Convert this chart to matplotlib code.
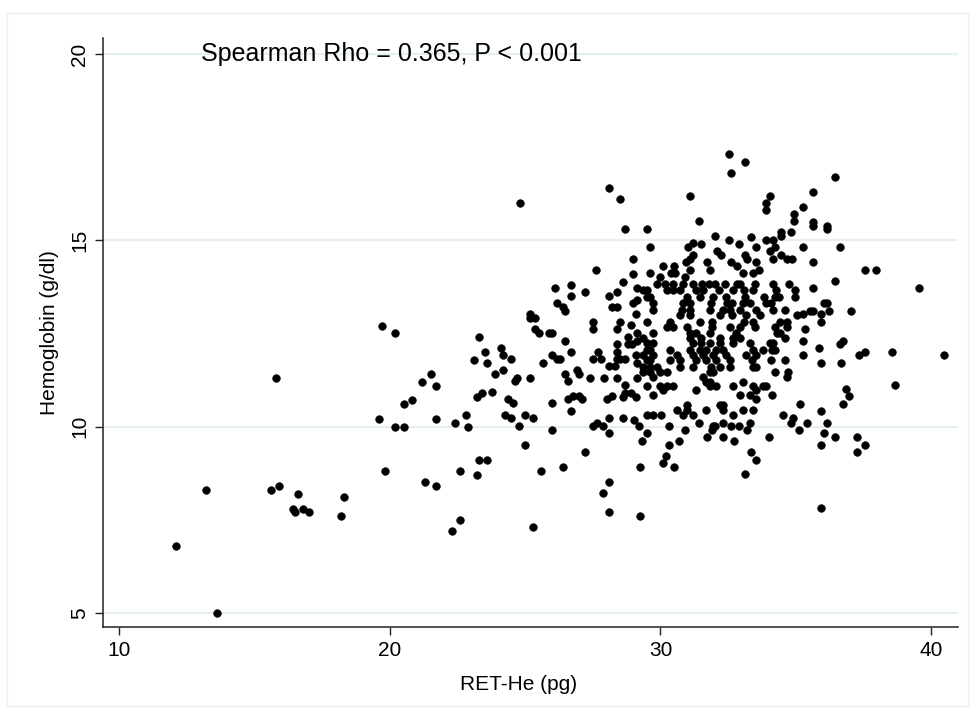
import matplotlib
matplotlib.use("Agg")
import matplotlib.pyplot as plt
from matplotlib.patches import Rectangle

plt.rcParams['font.family'] = ['Liberation Sans', 'DejaVu Sans']

x_label = "RET-He (pg)"
y_label = "Hemoglobin (g/dl)"
annotation = "Spearman Rho = 0.365, P < 0.001"
x_ticks = [10, 20, 30, 40]
y_ticks = [5, 10, 15, 20]

# (RET-He, Hemoglobin) pairs, grouped by region
left_points = [
    (12.1, 6.8), (13.6, 5.0), (13.2, 8.3), (15.8, 11.3), (15.6, 8.3), (15.9, 8.4),
    (16.6, 8.2), (16.4, 7.8), (16.5, 7.7), (16.8, 7.8), (17.0, 7.7), (18.3, 8.1),
    (18.2, 7.6), (19.7, 12.7), (20.2, 12.5), (19.6, 10.2), (20.2, 10.0), (20.5, 10.0),
    (20.5, 10.6), (20.8, 10.7), (21.2, 11.2), (21.5, 11.4), (21.7, 11.1), (21.7, 10.2),
    (19.8, 8.8), (21.3, 8.5), (21.7, 8.4), (22.4, 10.1), (22.8, 10.3), (22.9, 10.0),
    (22.6, 8.8), (23.2, 8.7), (23.3, 9.1), (23.6, 9.1), (22.6, 7.5), (22.3, 7.2),
    (23.3, 12.4), (23.5, 12.0), (23.1, 11.8), (23.6, 11.7), (23.2, 10.8), (23.4, 10.9),
]

upper_points = [
    (24.8, 16.0), (28.1, 16.4), (28.5, 16.1), (28.7, 15.3), (29.0, 14.5), (27.6, 14.2),
    (29.0, 14.1),
    (32.52, 17.31), (33.12, 17.10), (32.62, 16.80), (31.11, 16.20), (34.04, 16.20),
    (33.92, 16.01), (33.92, 15.80), (34.94, 15.71), (34.94, 15.51), (31.41, 15.52),
    (29.51, 15.31), (29.61, 14.81), (32.03, 15.11), (32.52, 15.02), (33.33, 15.10),
    (33.92, 15.02), (34.15, 15.02), (34.44, 15.21), (34.44, 15.11), (34.84, 15.21),
    (31.21, 14.92), (31.51, 14.91), (31.03, 14.81), (32.91, 14.91), (33.53, 14.81),
    (34.23, 14.81), (32.10, 14.71), (32.22, 14.60), (31.21, 14.61), (31.09, 14.51),
    (30.94, 14.42), (33.14, 14.60), (33.21, 14.51), (34.05, 14.71), (34.15, 14.51),
    (34.44, 14.61), (34.66, 14.51), (34.86, 14.51), (31.71, 14.42), (31.83, 14.21),
    (31.11, 14.21), (30.10, 14.31), (30.50, 14.31), (29.61, 14.11), (29.98, 14.01),
    (30.40, 14.11), (30.52, 14.11), (30.92, 14.01), (32.62, 14.42), (32.82, 14.31),
    (33.53, 14.42), (33.63, 14.21), (33.06, 14.11), (33.43, 14.11),
    (36.44, 16.71), (35.65, 16.30), (35.26, 15.90), (35.65, 15.50), (35.65, 15.39),
    (36.14, 15.38), (36.14, 15.29), (35.26, 14.81), (36.65, 14.81), (35.65, 14.41),
    (37.56, 14.21), (37.97, 14.21),
]

mid_left_points = [
    (26.09, 13.72), (26.69, 13.81), (26.69, 13.51), (27.20, 13.61), (28.60, 13.89),
    (28.11, 13.51), (28.39, 13.61), (29.14, 13.72), (26.19, 13.32), (26.38, 13.22),
    (26.48, 13.11), (28.21, 13.22), (28.39, 13.22), (29.00, 13.32), (29.12, 13.40),
    (25.18, 13.01), (25.18, 12.91), (25.37, 12.91), (29.09, 13.01), (27.50, 12.81),
    (27.50, 12.61), (28.50, 12.81), (28.90, 12.72), (28.38, 12.61), (25.37, 12.61),
    (25.50, 12.50), (25.89, 12.50), (25.99, 12.50), (26.48, 12.31), (28.80, 12.41),
    (29.14, 12.52), (28.38, 12.21), (28.80, 12.21), (28.95, 12.21), (29.14, 12.31),
    (24.09, 12.12), (24.19, 11.91), (24.49, 11.81), (24.16, 11.52), (23.87, 11.41),
    (24.68, 11.31), (24.61, 11.21), (25.18, 11.31), (25.67, 11.71), (25.99, 11.91),
    (26.19, 11.81), (26.28, 11.81), (26.68, 12.01), (26.48, 11.41), (26.58, 11.21),
    (26.90, 11.52), (27.00, 11.41), (27.39, 11.31), (27.69, 12.01), (27.52, 11.81),
    (27.79, 11.81), (27.91, 11.31), (28.11, 11.62), (28.31, 11.62), (28.38, 12.01),
    (28.38, 11.81), (28.50, 11.81), (28.70, 11.81), (29.09, 11.91), (29.14, 11.71),
    (28.40, 11.31), (29.14, 11.31), (28.70, 11.12), (28.70, 10.91), (28.60, 10.80),
    (28.90, 10.91), (29.09, 10.80), (23.77, 10.93), (24.36, 10.73), (24.56, 10.62),
    (24.26, 10.32), (24.46, 10.23), (24.98, 10.32), (25.27, 10.23), (25.99, 10.62),
    (26.58, 10.73), (26.78, 10.82), (26.97, 10.82), (27.10, 10.73), (26.68, 10.43),
    (28.01, 10.73), (28.21, 10.82), (28.11, 10.23), (28.63, 10.23),
]

core_points = [
    (29.86, 13.84), (30.18, 13.84), (30.45, 13.84), (30.84, 13.84), (31.19, 13.84),
    (31.53, 13.84), (31.78, 13.84), (32.00, 13.84), (32.39, 13.84), (32.84, 13.84),
    (32.94, 13.84), (33.50, 13.84), (34.17, 13.84), (34.74, 13.84),
    (29.36, 13.66), (29.49, 13.66), (30.23, 13.66), (30.47, 13.66), (30.72, 13.66),
    (31.33, 13.66), (31.58, 13.66), (32.15, 13.66), (32.69, 13.66), (33.08, 13.66),
    (33.43, 13.66), (34.27, 13.66), (34.98, 13.66),
    (29.49, 13.49), (29.61, 13.49), (30.97, 13.49), (31.46, 13.49), (31.95, 13.49),
    (32.44, 13.49), (33.13, 13.49), (33.82, 13.49), (34.22, 13.49), (34.39, 13.49),
    (34.98, 13.49),
    (29.73, 13.31), (30.84, 13.31), (31.09, 13.31), (31.88, 13.31), (32.47, 13.31),
    (32.64, 13.31), (33.06, 13.31), (33.31, 13.31), (33.92, 13.31), (34.07, 13.31),
    (29.73, 13.13), (30.79, 13.13), (31.09, 13.13), (31.83, 13.13), (32.32, 13.13),
    (32.57, 13.13), (32.94, 13.13), (33.55, 13.13), (34.17, 13.13), (34.61, 13.13),
    (30.72, 12.99), (31.11, 12.99), (32.20, 12.99), (32.64, 12.99), (33.16, 12.99),
    (33.68, 12.99), (35.03, 12.99),
    (29.49, 12.81), (30.35, 12.81), (31.46, 12.81), (31.90, 12.81), (33.08, 12.81),
    (33.43, 12.81), (34.42, 12.81), (34.66, 12.81),
    (30.23, 12.68), (30.47, 12.68), (30.97, 12.68), (31.90, 12.68), (32.57, 12.68),
    (32.94, 12.68), (33.50, 12.68), (34.22, 12.68), (34.66, 12.68),
    (29.73, 12.50), (31.09, 12.50), (31.33, 12.50), (31.83, 12.50), (32.81, 12.50),
    (34.29, 12.50), (34.42, 12.50),
    (29.36, 12.37), (31.09, 12.37), (31.51, 12.37), (32.20, 12.37), (32.69, 12.37),
    (32.94, 12.37), (34.61, 12.37),
    (29.49, 12.23), (29.73, 12.23), (31.21, 12.23), (31.51, 12.23), (31.83, 12.23),
    (32.20, 12.23), (32.69, 12.23), (33.31, 12.23), (34.05, 12.23), (34.17, 12.23),
    (29.49, 12.05), (29.61, 12.05), (30.35, 12.05), (31.09, 12.05), (31.46, 12.05),
    (31.70, 12.05), (32.07, 12.05), (32.32, 12.05), (33.43, 12.05), (33.80, 12.05),
    (34.12, 12.05), (34.24, 12.05),
    (29.36, 11.92), (29.73, 11.92), (30.60, 11.92), (31.21, 11.92), (31.58, 11.92),
    (31.95, 11.92), (32.44, 11.92), (33.18, 11.92), (33.55, 11.92),
    (29.49, 11.79), (29.61, 11.79), (30.35, 11.79), (30.72, 11.79), (31.33, 11.79),
    (31.70, 11.79), (32.07, 11.79), (32.57, 11.79), (33.38, 11.79), (34.07, 11.79),
    (34.61, 11.79),
    (29.36, 11.61), (29.61, 11.61), (29.86, 11.61), (30.72, 11.61), (31.21, 11.61),
    (31.85, 11.61), (32.20, 11.61), (32.57, 11.61), (33.43, 11.61), (33.55, 11.61),
    (29.36, 11.47), (29.61, 11.47), (29.98, 11.47), (30.23, 11.47), (31.83, 11.47),
    (31.95, 11.47), (34.22, 11.47), (34.71, 11.47),
    (29.73, 11.34), (31.58, 11.34), (34.66, 11.34),
    (31.70, 11.20), (31.83, 11.20), (33.06, 11.20),
    (29.49, 11.09), (29.98, 11.09), (30.23, 11.09), (30.47, 11.09), (31.83, 11.09),
    (32.07, 11.09), (32.69, 11.09), (33.43, 11.09), (33.80, 11.09), (33.92, 11.09),
    (30.10, 10.98), (31.33, 10.98), (33.55, 10.98),
    (29.73, 10.85), (32.94, 10.85), (33.31, 10.85), (34.12, 10.85),
    (33.55, 10.73),
    (30.97, 10.58), (32.20, 10.58), (32.32, 10.58),
    (30.60, 10.44), (30.97, 10.44), (31.70, 10.44), (32.32, 10.44), (33.06, 10.44),
    (33.43, 10.44),
    (29.49, 10.31), (29.73, 10.31), (30.03, 10.31), (30.84, 10.31), (31.19, 10.31),
    (32.69, 10.31), (34.54, 10.31),
    (34.91, 10.22),
]

right_points = [
    (36.44, 13.91), (35.65, 13.72), (39.57, 13.72), (36.04, 13.32), (36.17, 13.32),
    (35.53, 13.11), (35.65, 13.11), (35.26, 13.01), (35.95, 13.01), (36.24, 13.11),
    (37.04, 13.11), (35.95, 12.81), (35.34, 12.61), (35.26, 12.31), (36.73, 12.31),
    (36.64, 12.21), (35.85, 12.11), (35.26, 11.91), (35.95, 11.71), (36.66, 11.71),
    (37.35, 11.91), (37.55, 12.01), (38.56, 12.01), (40.48, 11.91), (38.66, 11.11),
    (36.86, 11.02), (36.96, 10.81), (36.73, 10.60), (35.16, 10.60), (35.95, 10.42),
]

lower_points = [
    (29.02, 10.17), (24.78, 10.01), (25.99, 9.91), (27.49, 10.01), (27.64, 10.10),
    (27.89, 10.01), (28.11, 9.82), (29.20, 10.01), (24.98, 9.51), (27.20, 9.31),
    (25.57, 8.81), (26.38, 8.91), (28.11, 8.51), (27.89, 8.21), (28.11, 7.71),
    (25.27, 7.31),
    (29.49, 9.82), (29.32, 9.62), (30.30, 10.01), (30.92, 9.91), (31.41, 10.10),
    (31.93, 10.01), (32.03, 10.01), (31.90, 9.91), (32.32, 10.10), (32.62, 10.01),
    (32.91, 10.01), (33.21, 9.91), (33.31, 10.10), (34.84, 10.10), (35.13, 9.91),
    (31.71, 9.71), (32.32, 9.71), (32.72, 9.62), (34.02, 9.71), (30.70, 9.62),
    (30.30, 9.51), (30.20, 9.22), (30.10, 9.01), (30.50, 8.91), (29.24, 8.91),
    (33.33, 9.31), (33.53, 9.11), (33.14, 8.72), (29.24, 7.61),
    (35.43, 10.10), (36.14, 10.10), (36.04, 9.82), (36.44, 9.71), (35.95, 9.51),
    (37.25, 9.71), (37.55, 9.51), (37.25, 9.31), (35.95, 7.81),
]

all_points = left_points + upper_points + mid_left_points + core_points + right_points + lower_points
ret_he = [p[0] for p in all_points]
hemoglobin = [p[1] for p in all_points]

fig = plt.figure(figsize=(9.75, 7.17), dpi=100)
fig.patch.set_facecolor('white')
# faint outer graph-region border
fig.add_artist(Rectangle((7 / 975, 1 - 706 / 717), 961 / 975, 693 / 717,
                         transform=fig.transFigure, fill=False,
                         edgecolor='#eeeeee', linewidth=1.0))

ax = fig.add_axes([103 / 975, 1 - 627 / 717, 855 / 975, 589 / 717])
ax.set_facecolor('white')
ax.set_xlim(9.39, 41.0)
ax.set_ylim(4.62, 20.43)

for yv in y_ticks:
    ax.axhline(yv, color='#e6eff2', linewidth=1.6, zorder=0)

ax.scatter(ret_he, hemoglobin, s=32, color='black', edgecolors='black',
           linewidths=0.3, zorder=3)

for side in ['top', 'right']:
    ax.spines[side].set_visible(False)
for side in ['left', 'bottom']:
    ax.spines[side].set_color('#222222')
    ax.spines[side].set_linewidth(1.1)

ax.set_xticks(x_ticks)
ax.set_yticks(y_ticks)
ax.set_xticklabels([str(t) for t in x_ticks], fontsize=15)
ax.set_yticklabels([str(t) for t in y_ticks], fontsize=15, rotation=90, va='center')
ax.tick_params(axis='both', direction='out', length=6, width=1.0, color='#222222', pad=4)

ax.set_xlabel(x_label, fontsize=15)
ax.xaxis.set_label_coords((519 - 103) / 855, -(684 - 627) / 589)
ax.xaxis.label.set_va('center')
ax.set_ylabel(y_label, fontsize=15, labelpad=8)

ax.text(13.0, 20.0, annotation, fontsize=18, ha='left', va='center', zorder=4)

fig.savefig('out.png', dpi=100, facecolor='white')
